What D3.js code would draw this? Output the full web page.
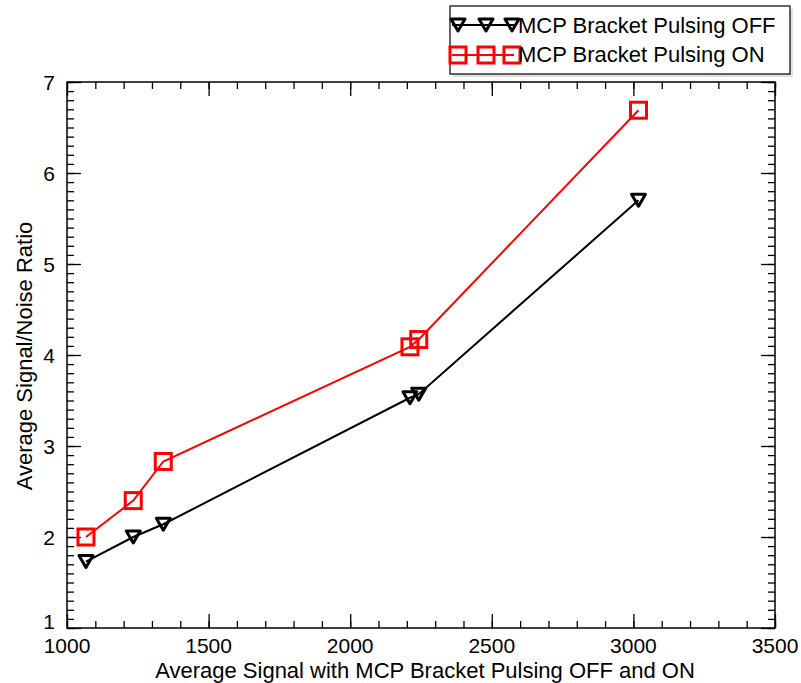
<!DOCTYPE html>
<html><head><meta charset="utf-8">
<script src="https://cdn.jsdelivr.net/npm/d3@7"></script>
<style>body{margin:0;background:#fff}svg{display:block}text{font-family:"Liberation Sans",Arial,Helvetica,sans-serif;fill:#000}</style>
</head><body>
<script>
const xValues = [1067, 1234, 1340, 2211, 2242, 3018];
const offValues = [1.73, 2.00, 2.14, 3.53, 3.57, 5.70];
const onValues = [2.00, 2.40, 2.83, 4.09, 4.17, 6.69];
const seriesNames = ["MCP Bracket Pulsing OFF", "MCP Bracket Pulsing ON"];
const xTicks = [1000, 1500, 2000, 2500, 3000, 3500];
const yTicks = [1, 2, 3, 4, 5, 6, 7];
const xTitle = "Average Signal with MCP Bracket Pulsing OFF and ON";
const yTitle = "Average Signal/Noise Ratio";

const W = 801, H = 683;
const L = 67, R = 775, T = 82, B = 628;
const svg = d3.select("body").append("svg").attr("width", W).attr("height", H);
const x = d3.scaleLinear().domain([1000, 3500]).range([L, R]);
const y = d3.scaleLinear().domain([1, 7]).range([B, T]);

const xMinor = d3.range(1000, 3501, 100);
const yMinor = d3.range(10, 71, 1).map(v => v / 10);

svg.append("rect").attr("x", L).attr("y", T).attr("width", R - L).attr("height", B - T)
  .attr("fill", "none").attr("stroke", "#000").attr("stroke-width", 1.5);

function axisTicks(g, axisGen) { g.call(axisGen); g.select(".domain").remove(); g.selectAll("line").attr("stroke", "#000").attr("stroke-width", 1.3); }

svg.append("g").attr("transform", `translate(0,${B})`).call(g => axisTicks(g, d3.axisTop(x).tickValues(xMinor).tickSize(7).tickFormat("")));
svg.append("g").attr("transform", `translate(0,${B})`).call(g => axisTicks(g, d3.axisTop(x).tickValues(xTicks).tickSize(14).tickFormat("")));
svg.append("g").attr("transform", `translate(0,${T})`).call(g => axisTicks(g, d3.axisBottom(x).tickValues(xMinor).tickSize(7).tickFormat("")));
svg.append("g").attr("transform", `translate(0,${T})`).call(g => axisTicks(g, d3.axisBottom(x).tickValues(xTicks).tickSize(14).tickFormat("")));
svg.append("g").attr("transform", `translate(${L},0)`).call(g => axisTicks(g, d3.axisRight(y).tickValues(yMinor).tickSize(7).tickFormat("")));
svg.append("g").attr("transform", `translate(${L},0)`).call(g => axisTicks(g, d3.axisRight(y).tickValues(yTicks).tickSize(14).tickFormat("")));
svg.append("g").attr("transform", `translate(${R},0)`).call(g => axisTicks(g, d3.axisLeft(y).tickValues(yMinor).tickSize(7).tickFormat("")));
svg.append("g").attr("transform", `translate(${R},0)`).call(g => axisTicks(g, d3.axisLeft(y).tickValues(yTicks).tickSize(14).tickFormat("")));

svg.append("g").selectAll("text").data(xTicks).join("text")
  .attr("x", d => x(d)).attr("y", B + 25).attr("text-anchor", "middle").attr("font-size", 21).text(d => d);
svg.append("g").selectAll("text").data(yTicks).join("text")
  .attr("x", L - 12).attr("y", d => y(d) + (d === 1 ? 1 : 8)).attr("text-anchor", "end").attr("font-size", 21).text(d => d);

svg.append("text").attr("x", 425).attr("y", 678).attr("text-anchor", "middle").attr("font-size", 22).text(xTitle);
svg.append("text").attr("transform", `translate(32,356) rotate(-90)`).attr("text-anchor", "middle").attr("font-size", 22).text(yTitle);

const line = d3.line().x(d => x(d[0])).y(d => y(d[1]));
const offData = xValues.map((v, i) => [v, offValues[i]]);
const onData = xValues.map((v, i) => [v, onValues[i]]);

const tri = "M-7,-6 L7,-6 L0,6 Z";
function drawTri(g, px, py) {
  g.append("path").attr("d", tri).attr("transform", `translate(${px},${py})`)
    .attr("fill", "none").attr("stroke", "#000").attr("stroke-width", 3).attr("stroke-linejoin", "round");
}
function drawSq(g, px, py) {
  g.append("rect").attr("x", px - 8).attr("y", py - 8).attr("width", 16).attr("height", 16)
    .attr("fill", "none").attr("stroke", "#f00").attr("stroke-width", 3);
}

svg.append("path").datum(offData).attr("d", line).attr("fill", "none").attr("stroke", "#000").attr("stroke-width", 2);
svg.append("path").datum(onData).attr("d", line).attr("fill", "none").attr("stroke", "#f00").attr("stroke-width", 2);
const gOff = svg.append("g");
offData.forEach(d => drawTri(gOff, x(d[0]), y(d[1])));
const gOn = svg.append("g");
onData.forEach(d => drawSq(gOn, x(d[0]), y(d[1])));

const lg = svg.append("g");
lg.append("rect").attr("x", 453).attr("y", 9).attr("width", 340).attr("height", 68).attr("fill", "#ccc").attr("opacity", 0.6);
lg.append("rect").attr("x", 450).attr("y", 6).attr("width", 340).attr("height", 68).attr("fill", "#fff").attr("stroke", "#000").attr("stroke-width", 1.2);
const legY = [25, 55];
lg.append("line").attr("x1", 452).attr("x2", 514).attr("y1", legY[0]).attr("y2", legY[0]).attr("stroke", "#000").attr("stroke-width", 2);
[458, 486, 512].forEach(px => drawTri(lg, px, legY[0]));
lg.append("line").attr("x1", 452).attr("x2", 514).attr("y1", legY[1]).attr("y2", legY[1]).attr("stroke", "#f00").attr("stroke-width", 2);
[458, 486, 512].forEach(px => drawSq(lg, px, legY[1]));
lg.selectAll("text.leg").data(seriesNames).join("text").attr("class", "leg")
  .attr("x", 518).attr("y", (d, i) => [33, 62][i]).attr("font-size", 22).text(d => d);
</script>
</body></html>
